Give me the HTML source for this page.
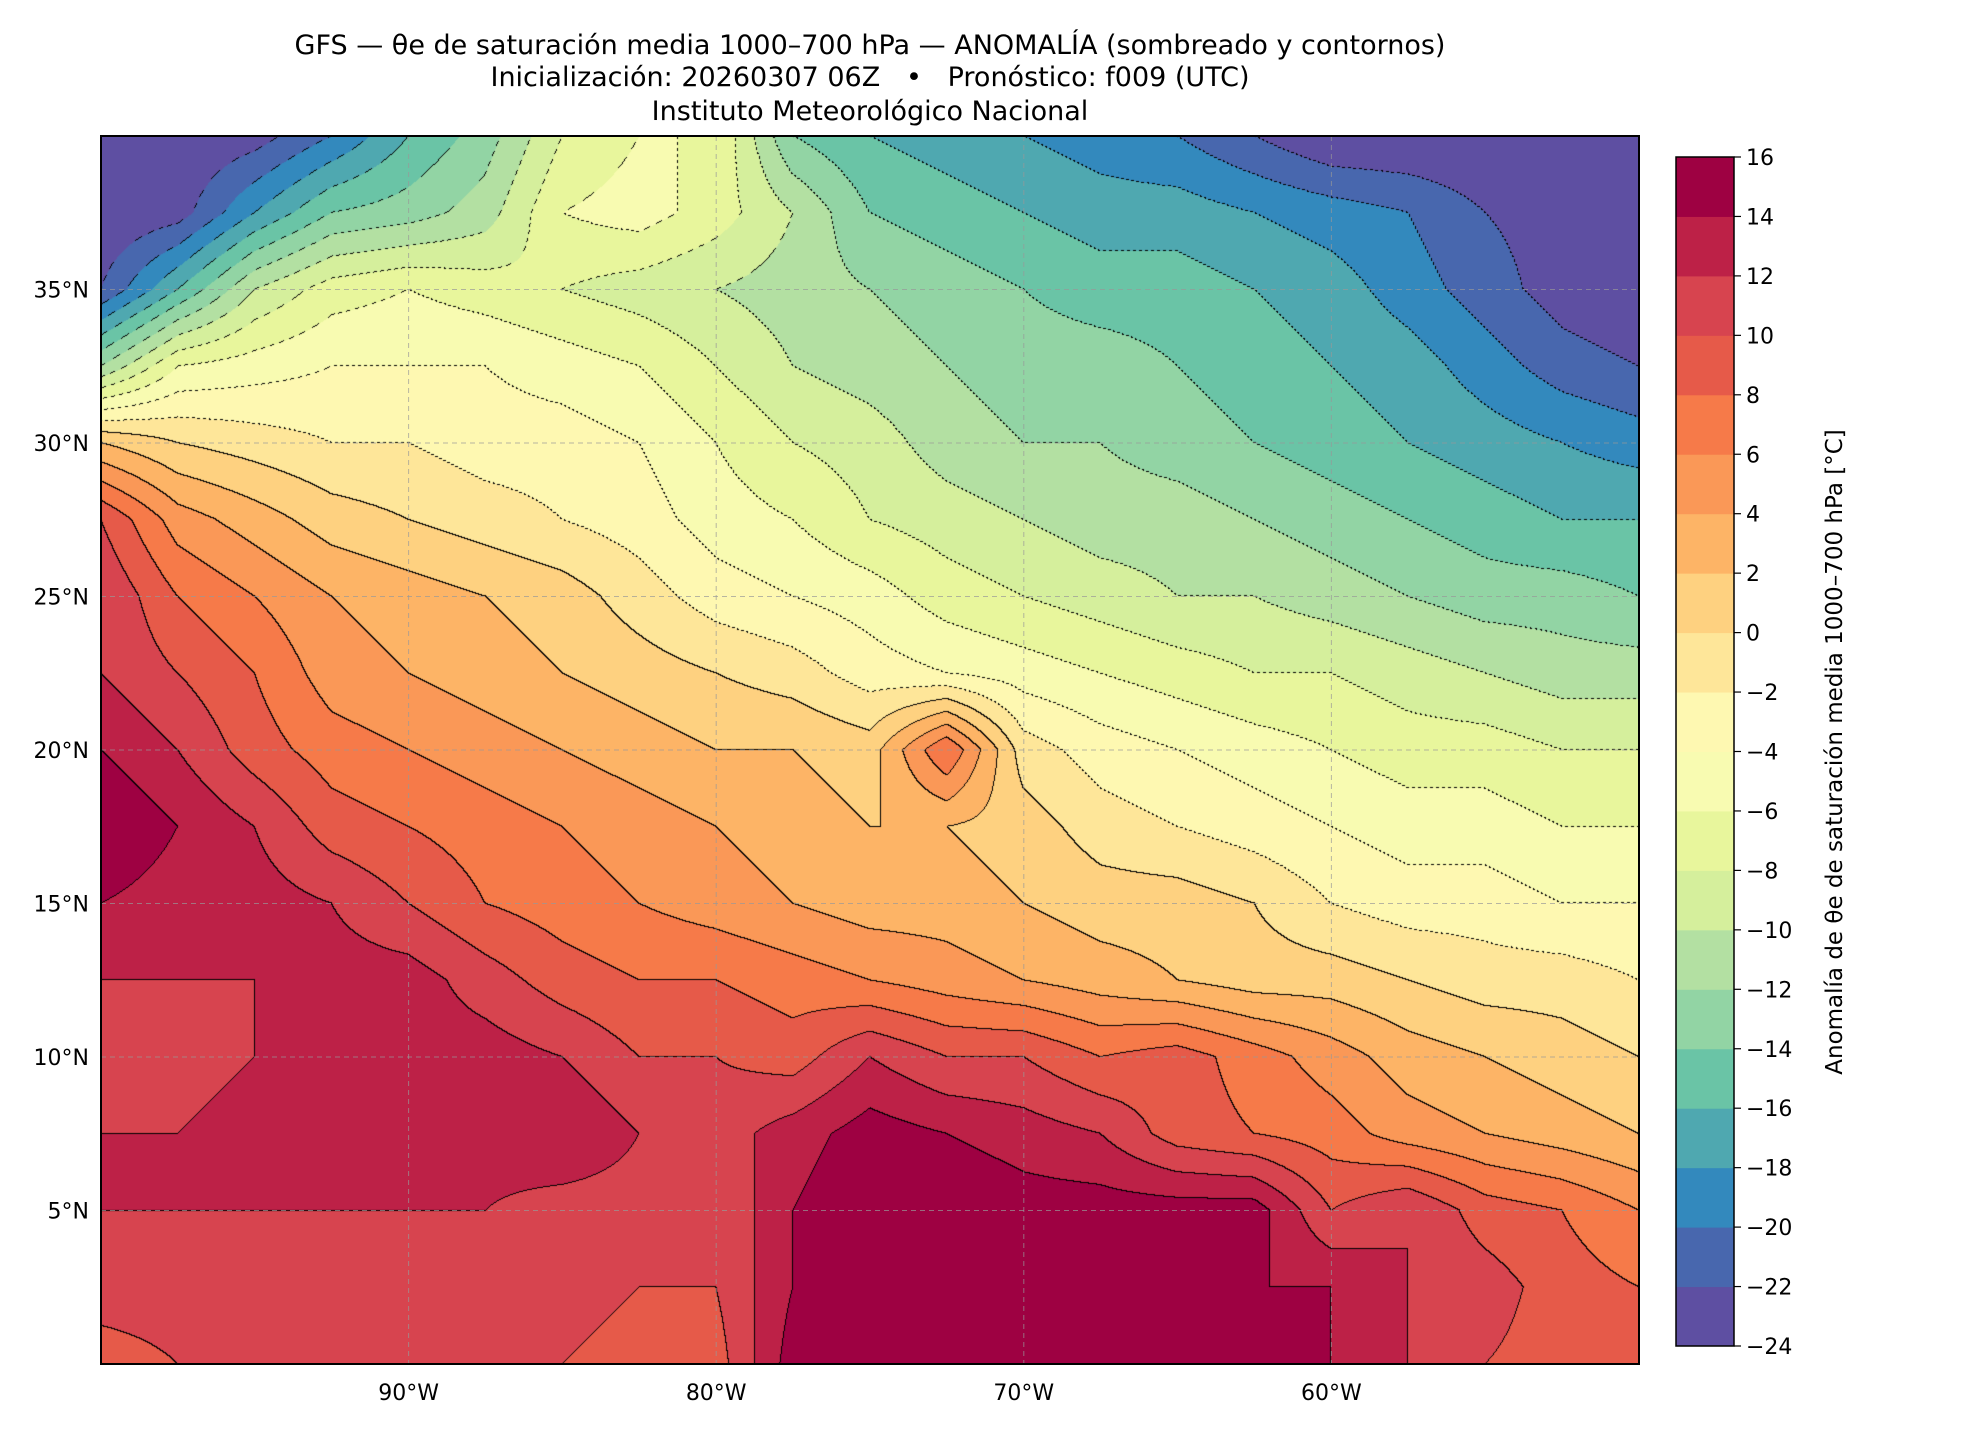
<!DOCTYPE html>
<html><head><meta charset="utf-8"><style>
body{margin:0;background:#fff;font-family:"DejaVu Sans","Liberation Sans",sans-serif;}
#wrap{position:relative;width:1980px;height:1440px;overflow:hidden;background:#fff}
canvas{position:absolute;left:101px;top:136px}
svg{position:absolute;left:0;top:0}
</style></head><body>
<div id="wrap">
<canvas id="field" width="1538" height="1228"></canvas>
<svg id="svg" width="1980" height="1440" font-family="DejaVu Sans, Liberation Sans, sans-serif">
<text x="870" y="54" text-anchor="middle" font-size="27">GFS — θe de saturación media 1000–700 hPa — ANOMALÍA (sombreado y contornos)</text>
<text x="870" y="86" text-anchor="middle" font-size="27" xml:space="preserve">Inicialización: 20260307 06Z   •   Pronóstico: f009 (UTC)</text>
<text x="870" y="120" text-anchor="middle" font-size="27">Instituto Meteorológico Nacional</text>
<g id="grid"></g><g id="axes"></g><g id="cbar"></g>
</svg>
</div>
<script>
const lats=[40,37.5,35,32.5,30,27.5,25,22.5,20,17.5,15,12.5,10,7.5,5,2.5,0];
const lons=[-100,-97.5,-95,-92.5,-90,-87.5,-85,-82.5,-80,-77.5,-75,-72.5,-70,-67.5,-65,-62.5,-60,-57.5,-55,-52.5,-50];
const row40=[-24,-24,-23,-20,-16,-13,-8,-6,-6,-14,-16,-17,-18,-19,-20,-22,-24,-24,-24,-24,-24];
const row37=[-24,-23,-18,-14,-13,-11,-6,-5,-7,-10,-14,-15,-16,-17,-17,-18,-19,-20,-22,-23,-24];
const row35=[-22,-16,-10,-7,-6,-7,-8,-9,-10,-11,-12,-13,-14,-15,-15,-16,-17,-19,-21,-23,-24];
const row32=[-12,-6,-5,-4,-4,-4,-5,-6,-8,-10,-11,-12,-13,-13,-14,-15,-16,-17,-19,-21,-22];
const row30=[2,0,-1,-2,-2,-3,-3,-4,-6,-8,-9,-11,-12,-12,-13,-14,-15,-16,-17,-18,-19];
const row27=[10,5,3,1,0,-1,-2,-3,-5,-6,-8,-9,-10,-11,-11,-12,-13,-14,-15,-16,-16];
const row25=[12,8,6,4,3,2,1,-1,-3,-4,-5,-7,-8,-9,-10,-10,-11,-12,-13,-13,-14];
const row22=[12,10,8,5,4,3,2,1,0,-1,-3,-4,-5,-6,-7,-8,-8,-9,-10,-11,-11];
const row20=[14,12,9,7,6,5,4,3,2,2,1,8,-1,-3,-4,-5,-6,-7,-7,-8,-8];
const row17=[16,14,12,9,8,7,6,5,4,3,2,2,1,-1,-2,-3,-4,-5,-5,-6,-6];
const row15=[14,13,13,12,10,8,7,6,5,4,3,3,2,1,1,0,-2,-3,-3,-4,-4];
const row12=[12,12,12,13,13,11,9,8,8,7,6,5,4,3,2,1,1,0,-1,-1,-2];
const row10=[11,11,12,12,13,13,12,10,10,9,12,10,10,8,9,7,5,3,2,1,0];
const row7=[12,12,13,13,13,13,14,12,11,13,15,14,13,12,9,8,7,5,4,3,2];
const row5=[12,12,12,12,12,12,11,11,10,14,16,16,15,15,15,15,10,12,9,8,6];
const row2=[11,11,11,11,11,11,11,10,10,14,16,16,16,15,15,14,14,12,11,9,8];
const row0=[9,10,10,11,11,11,10,9,9,15,16,15,15,15,15,14,14,12,10,9,8];
const rows=[row40,row37,row35,row32,row30,row27,row25,row22,row20,row17,row15,row12,row10,row7,row5,row2,row0];
const levels=[-24,-22,-20,-18,-16,-14,-12,-10,-8,-6,-4,-2,0,2,4,6,8,10,12,14,16];
const colors=['#5e4fa2','#4867ae','#3389bd','#4fa8b0','#6ac4a6','#92d4a4','#b3e0a2','#d5ef9c','#e8f69c','#f8fbb1','#fef8b1','#fee699','#fed180','#fdb466','#fa9857','#f67a49','#e65a49','#d7444f','#bd2147','#9e0142'];
const latTicks=[5,10,15,20,25,30,35];
const lonTicks=[-90,-80,-70,-60];
const PL=101,PT=136,PW=1538,PH=1228,LON0=-100,LON1=-50,LAT0=0,LAT1=40;
const xS=lon=>PL+(lon-LON0)/(LON1-LON0)*PW;
const yS=lat=>PT+(LAT1-lat)/(LAT1-LAT0)*PH;
function val(lon,lat){
  const fi=(lon-lons[0])/(lons[1]-lons[0]), fj=(lats[0]-lat)/(lats[0]-lats[1]);
  let i=Math.max(0,Math.min(lons.length-2,Math.floor(fi))), j=Math.max(0,Math.min(lats.length-2,Math.floor(fj)));
  const tx=Math.min(1,Math.max(0,fi-i)), ty=Math.min(1,Math.max(0,fj-j));
  const a=rows[j][i],b=rows[j][i+1],c=rows[j+1][i],d=rows[j+1][i+1];
  return a*(1-tx)*(1-ty)+b*tx*(1-ty)+c*(1-tx)*ty+d*tx*ty;
}
function band(v){let k=Math.floor((v-levels[0])/2);return Math.max(0,Math.min(colors.length-1,k));}
const cv=document.getElementById('field'),ctx=cv.getContext('2d');
const img=ctx.createImageData(PW,PH);const B=new Int8Array(PW*PH);
for(let y=0;y<PH;y++)for(let x=0;x<PW;x++){
  const lon=LON0+(x+0.5)/PW*(LON1-LON0),lat=LAT1-(y+0.5)/PH*(LAT1-LAT0);
  B[y*PW+x]=band(val(lon,lat));
}
const rgb=colors.map(c=>[parseInt(c.substr(1,2),16),parseInt(c.substr(3,2),16),parseInt(c.substr(5,2),16)]);
for(let y=0;y<PH;y++)for(let x=0;x<PW;x++){
  const k=y*PW+x,b=B[k];let col=rgb[b];
  let edge=false,lvl=0;
  if(x<PW-1&&B[k+1]!==b){edge=true;lvl=levels[Math.max(b,B[k+1])];}
  else if(y<PH-1&&B[k+PW]!==b){edge=true;lvl=levels[Math.max(b,B[k+PW])];}
  if(edge&&(lvl>=0||((x+y)%6)<3))col=[0,0,0];
  img.data[k*4]=col[0];img.data[k*4+1]=col[1];img.data[k*4+2]=col[2];img.data[k*4+3]=255;
}
ctx.putImageData(img,0,0);
const NS='http://www.w3.org/2000/svg';
function mk(tag,attrs,parent,text){const e=document.createElementNS(NS,tag);for(const k in attrs)e.setAttribute(k,attrs[k]);if(text!==undefined)e.textContent=text;parent.appendChild(e);return e;}
const grid=document.getElementById('grid'),axes=document.getElementById('axes'),cb=document.getElementById('cbar');
latTicks.forEach(l=>{
  const g=mk('line',{x1:PL,x2:PL+PW,y1:yS(l),y2:yS(l),stroke:'#999','stroke-dasharray':'5,4','stroke-width':1,opacity:0.7},grid);
  
  
  const t=mk('text',{x:PL-12,y:yS(l)+8,'text-anchor':'end','font-size':22},axes,l+'°N');
  
  
});
lonTicks.forEach(l=>{
  const g=mk('line',{x1:xS(l),x2:xS(l),y1:PT,y2:PT+PH,stroke:'#999','stroke-dasharray':'5,4','stroke-width':1,opacity:0.7},grid);
  
  
  const t=mk('text',{x:xS(l),y:PT+PH+36,'text-anchor':'middle','font-size':22},axes,(-l)+'°W');
  
  
});
const fr=mk('rect',{x:PL,y:PT,width:PW,height:PH,fill:'none',stroke:'#000','stroke-width':2},axes);


const CX=1676,CW=58,CT=157,CH=1189;
const cy=v=>CT+CH-(v-levels[0])/(levels[levels.length-1]-levels[0])*CH;
colors.forEach((c,i)=>{
  const r=mk('rect',{x:CX,y:cy(levels[i+1]),width:CW,height:cy(levels[i])-cy(levels[i+1])+0.5,fill:c},cb);
  
  
});
const cf=mk('rect',{x:CX,y:CT,width:CW,height:CH,fill:'none',stroke:'#000','stroke-width':1.5},cb);


levels.forEach(l=>{
  mk('line',{x1:CX+CW,x2:CX+CW+7,y1:cy(l),y2:cy(l),stroke:'#000','stroke-width':1.2},cb);
  const t=mk('text',{x:CX+CW+12,y:cy(l)+8,'font-size':22},cb,l<0?'−'+(-l):String(l));
  
  
});
const lab=mk('text',{x:0,y:0,'font-size':23,'text-anchor':'middle',transform:'translate(1842,752) rotate(-90)'},cb,'Anomalía de θe de saturación media 1000–700 hPa [°C]');


</script>
</body></html>
